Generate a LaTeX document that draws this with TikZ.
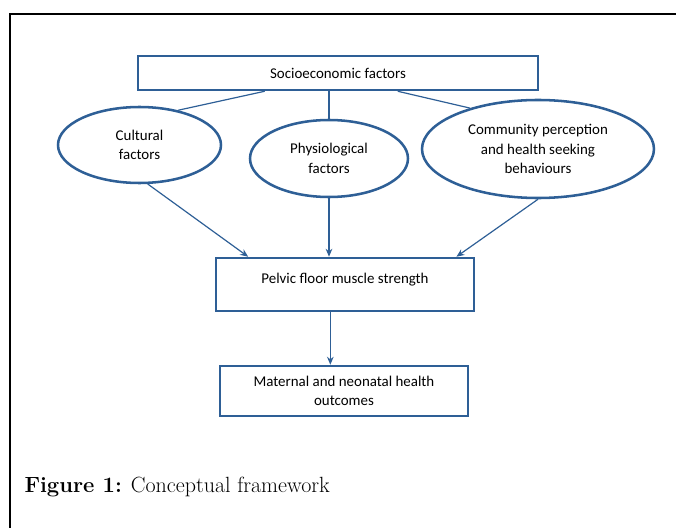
\documentclass[tikz,border=0pt]{standalone}
\usepackage{fontspec}
\newfontfamily\calibri{Carlito}
\usetikzlibrary{shapes.geometric,arrows.meta}
\definecolor{frameblue}{RGB}{46,95,150}

\tikzset{every picture/.style={line width=0.75pt}}
\tikzset{
  box/.style={draw=frameblue, line width=1.9pt, rectangle, inner sep=0pt, align=center,
    font=\calibri\fontsize{11.2}{14.8}\selectfont},
  oval/.style={draw=frameblue, line width=1.9pt, ellipse, inner sep=0pt, align=center,
    font=\calibri\fontsize{11.2}{14.8}\selectfont},
  link/.style={draw=frameblue, line width=0.9pt},
  arr/.style={link, -{Stealth[length=6pt,width=5pt]}},
}

\begin{document}
\begin{tikzpicture}[x=0.75pt,y=0.75pt,yscale=-1,xscale=1]
\useasboundingbox (0,0) rectangle (676,528);

%Frame
\draw [line width=1pt] (10,528) -- (10,14) -- (676,14) ;

%Boxes and ellipses
\node [box, minimum width=300pt, minimum height=25.5pt] (socio) at (338,73) {Socioeconomic factors};
\node [oval, minimum width=122.25pt, minimum height=57pt] (cult) at (139.5,145) {Cultural\\factors};
\node [oval, minimum width=118.5pt, minimum height=57.75pt] (phys) at (329,158.5) {Physiological\\factors};
\node [oval, minimum width=174pt, minimum height=73.5pt] (comm) at (538,149) {Community perception\\and health seeking\\behaviours};
\node [box, minimum width=193.5pt, text height=18.75pt, text depth=21pt] (pelvic) at (345,284.5) {Pelvic floor muscle strength};
\node [box, minimum width=186pt, minimum height=37.5pt] (maternal) at (344,391) {Maternal and neonatal health\\outcomes};

%Lines from the top box
\draw [link] (socio.194.7) -- (cult.42) ;
\draw [link] (phys.north |- socio.south) -- (phys.north) ;
\draw [link] (socio.343.4) -- (comm.149) ;

%Arrows
\draw [arr] (cult.282) -- (pelvic.164) ;
\draw [arr] (phys.south) -- (phys.south |- pelvic.north) ;
\draw [arr] (comm.south) -- (pelvic.14.6) ;
\draw [arr] ([xshift=-11pt]pelvic.south) -- ([xshift=-11pt]pelvic.south |- maternal.north) ;

% Text Node
\node [anchor=base west, inner sep=0pt, font=\fontsize{16.5}{20}\selectfont] (caption) at (24,492) {\textbf{Figure 1:} Conceptual framework};

\end{tikzpicture}
\end{document}
